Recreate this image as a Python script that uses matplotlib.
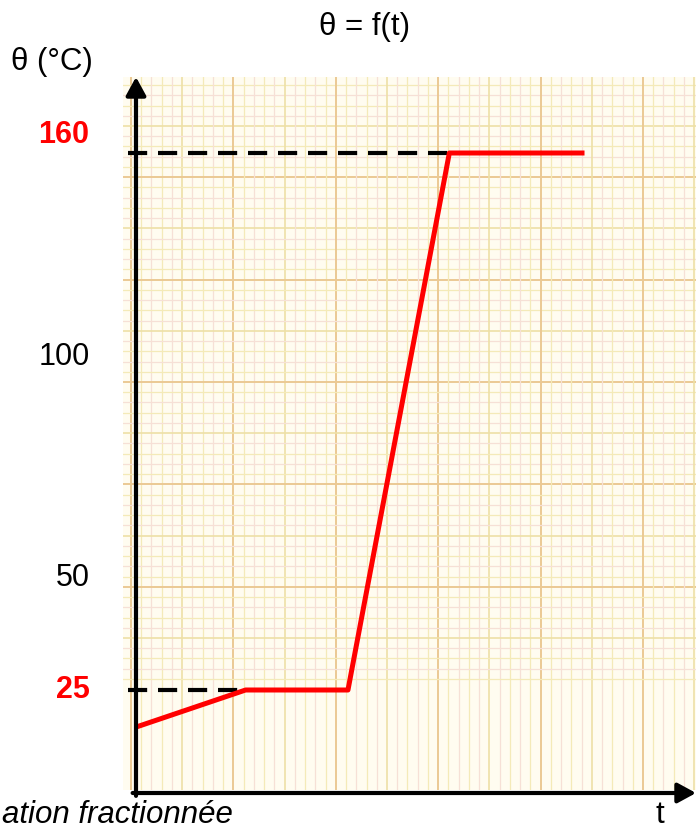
import numpy as np
import matplotlib
matplotlib.use("Agg")
import matplotlib.pyplot as plt

plt.rcParams['font.family'] = ['Liberation Sans', 'DejaVu Sans']

# data (t has no units on the original, one unit = one big square)
t_points = [0, 1.07, 2.07, 3.06, 4.38]
theta_points = [16, 25, 25, 160, 160]
dashed_levels = [160, 25]
dashed_ends = [3.06, 1.07]
tick_values = [160, 100, 50, 25]
tick_labels = ["160", "100", "50", "25"]
tick_colors = ["red", "black", "black", "red"]
tick_weights = ["bold", "normal", "normal", "bold"]

W, H = 696, 831

def fx(px):
    return px / W

def fy(py):
    return 1 - py / H

fig = plt.figure(figsize=(W / 100, H / 100), dpi=100)

# graph paper behind the plot
bg = fig.add_axes([fx(123), fy(790), fx(696) - fx(123), fy(77) - fy(790)], zorder=0)
bg.set_xlim(123, 696)
bg.set_ylim(790, 77)
bg.set_facecolor("#fffcf0")
bg.set_xticks([])
bg.set_yticks([])
for s in bg.spines.values():
    s.set_visible(False)

step = 10.24
for k in range(-2, 60):
    xv = 131 + k * step
    yv = 74.8 + k * step
    if k % 10 == 0:
        c, lw = "#ebc994", 1.4
    elif k % 5 == 0:
        c, lw = "#ede0a6", 1.2
    else:
        c, lw = ("#f4eab8" if k % 2 else "#f6e0d6"), 0.9
    bg.axvline(xv, color=c, lw=lw)
    bg.axhline(yv, color=c, lw=lw)

# main axes
ax = fig.add_axes([fx(136), fy(793), fx(696) - fx(136), fy(77) - fy(793)], zorder=1)
ax.set_facecolor("none")

# the drawing is not to scale: piecewise scale so the labels sit where they are drawn
th_anchor = [-100, 0, 25, 50, 100, 160, 400]
u_anchor = [-412, 0, 103, 215, 436, 640, 1456]
fwd = lambda v: np.interp(v, th_anchor, u_anchor)
inv = lambda u: np.interp(u, u_anchor, th_anchor)
ax.set_yscale("function", functions=(fwd, inv))
ax.set_xlim(0, 560 / 102.4)
ax.set_ylim(0, float(inv(716)))

for s in ax.spines.values():
    s.set_visible(False)
ax.set_xticks([])
ax.set_yticks([])
ax.minorticks_off()

# dashed guide lines
for lev, tend in zip(dashed_levels, dashed_ends):
    ax.plot([-0.08, tend], [lev, lev], color="black", lw=3, dashes=(4.6, 2.6), clip_on=False, zorder=2)

# the curve
ax.plot(t_points, theta_points, color="red", lw=3.6, solid_capstyle="butt", zorder=3)

# axes with arrows
arrow = dict(arrowstyle="-|>,head_length=0.55,head_width=0.3", lw=3, color="black",
             mutation_scale=20, shrinkA=0, shrinkB=0)
ax.annotate("", xy=(0, 1), xytext=(0, -0.004), xycoords="axes fraction", arrowprops=arrow)
ax.annotate("", xy=(1, 0), xytext=(-0.006, 0), xycoords="axes fraction", arrowprops=arrow)

# value labels on the theta axis
for v, lab, c, w in zip(tick_values, tick_labels, tick_colors, tick_weights):
    dy = 13 if v == 160 else 0
    ax.annotate(lab, xy=(0, v), xycoords=ax.get_yaxis_transform(),
                xytext=(-33.5, dy), textcoords="offset points",
                ha="right", va="center", fontsize=22, color=c, fontweight=w,
                annotation_clip=False)

fig.text(fx(365), fy(27), "θ = f(t)", ha="center", va="center", fontsize=22.5)
fig.text(fx(52), fy(62), "θ (°C)", ha="center", va="center", fontsize=22.5)
fig.text(fx(660), fy(830), "t", ha="center", va="bottom", fontsize=22.5)
fig.text(fx(2), fy(830), "ation fractionnée", ha="left", va="bottom",
         fontsize=22.5, style="italic")

fig.savefig("out.png", dpi=100)
